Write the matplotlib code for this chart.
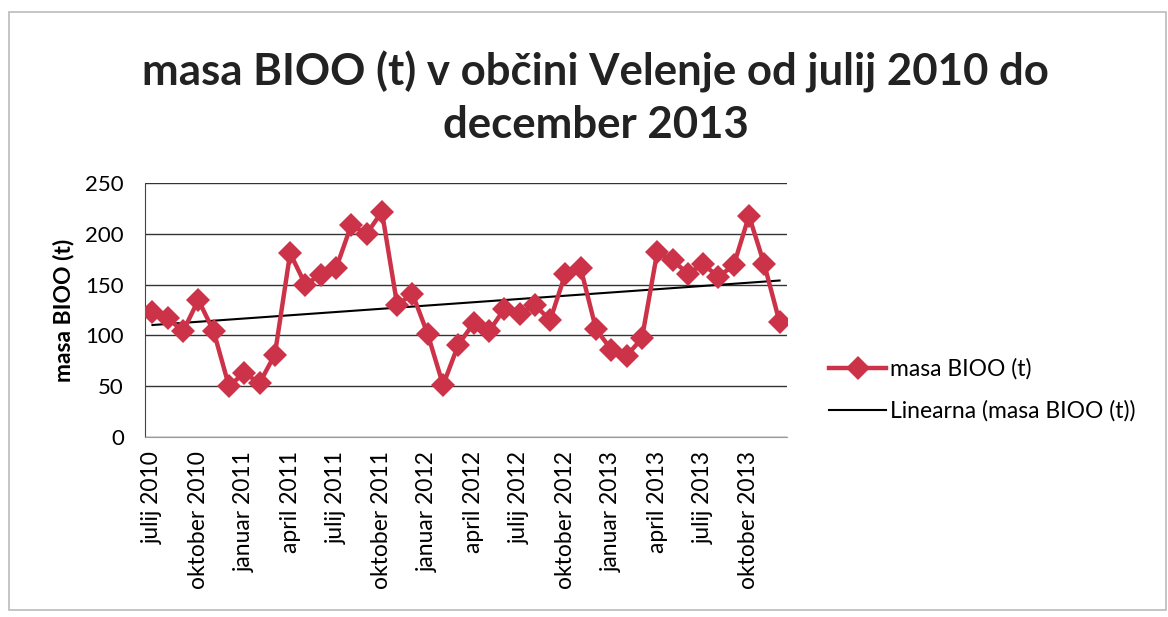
import numpy as np
import matplotlib

matplotlib.use("Agg")
import matplotlib.pyplot as plt

# monthly mass of biodegradable waste (t), julij 2010 .. december 2013
months = [
    "julij 2010", "avgust 2010", "september 2010", "oktober 2010", "november 2010", "december 2010",
    "januar 2011", "februar 2011", "marec 2011", "april 2011", "maj 2011", "junij 2011",
    "julij 2011", "avgust 2011", "september 2011", "oktober 2011", "november 2011", "december 2011",
    "januar 2012", "februar 2012", "marec 2012", "april 2012", "maj 2012", "junij 2012",
    "julij 2012", "avgust 2012", "september 2012", "oktober 2012", "november 2012", "december 2012",
    "januar 2013", "februar 2013", "marec 2013", "april 2013", "maj 2013", "junij 2013",
    "julij 2013", "avgust 2013", "september 2013", "oktober 2013", "november 2013", "december 2013",
]
masa = [
    123, 117, 104, 135, 104, 50, 63, 53, 81, 181, 150, 160,
    166, 209, 200, 222, 130, 141, 101, 51, 91, 112, 104, 126,
    121, 130, 115, 161, 166, 106, 86, 80, 97, 182, 174, 161,
    170, 158, 169, 218, 170, 113,
]
yticks = [0, 50, 100, 150, 200, 250]

plt.rcParams["font.family"] = ["Lato", "DejaVu Sans"]

fig = plt.figure(figsize=(11.68, 6.17), dpi=100)
ax = fig.add_axes([0.124, 0.292, 0.550, 0.411])

x = np.arange(len(masa))
red = "#CC3349"
ax.plot(x, masa, "-D", color=red, lw=3.2, markersize=12,
        markeredgewidth=0, label="masa BIOO (t)", zorder=3)

k, b = np.polyfit(x, masa, 1)
ax.plot(x, k * x + b, color="black", lw=1.5,
        label="Linearna (masa BIOO (t))", zorder=2)

ax.set_xlim(-0.5, len(masa) - 0.5)
ax.set_ylim(0, 250)
ax.set_yticks(yticks)
ax.set_yticklabels([str(v) for v in yticks], fontsize=16)
ax.set_xticks(x[::3])
ax.set_xticklabels(months[::3], rotation=90, fontsize=16.5)
ax.tick_params(axis="x", length=0, pad=10)
ax.tick_params(axis="y", length=0, pad=15)
ax.grid(axis="y", color="#333333", lw=1.0)
ax.set_axisbelow(True)
for side in ("top", "right"):
    ax.spines[side].set_visible(False)
ax.spines["left"].set_color("#444444")
ax.spines["bottom"].set_color("#999999")
ax.set_ylabel("masa BIOO (t)", fontsize=16.5, fontweight="bold", labelpad=8)

fig.text(0.510, 0.883, "masa BIOO (t) v občini Velenje od julij 2010 do",
         ha="center", va="center", fontsize=31.5, fontweight="bold", color="#222222")
fig.text(0.510, 0.797, "december 2013",
         ha="center", va="center", fontsize=31.5, fontweight="bold", color="#222222")

fig.legend(loc="center left", bbox_to_anchor=(0.692, 0.368), frameon=False,
           fontsize=16.5, handlelength=2.5, handletextpad=0.15, labelspacing=0.9)

# thin frame of the pasted chart
fig.add_artist(plt.Rectangle((0.008, 0.012), 0.99, 0.968, transform=fig.transFigure,
                             fill=False, edgecolor="#BBBBBB", lw=1.2))

fig.savefig("out.png", dpi=100)
